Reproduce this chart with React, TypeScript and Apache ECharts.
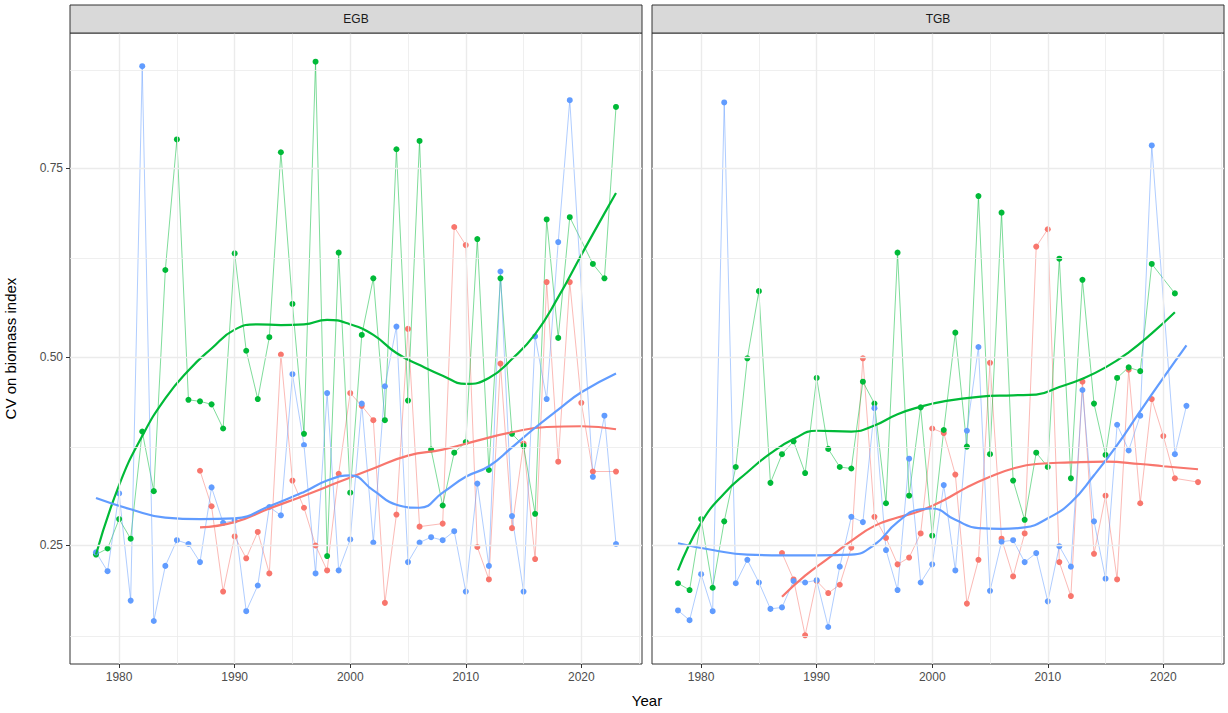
import React, { useEffect, useRef } from "react";
import * as echarts from "echarts";

// ---------- data ----------
const YEARS = [
  1978, 1979, 1980, 1981, 1982, 1983, 1984, 1985, 1986, 1987, 1988, 1989, 1990,
  1991, 1992, 1993, 1994, 1995, 1996, 1997, 1998, 1999, 2000, 2001, 2002, 2003,
  2004, 2005, 2006, 2007, 2008, 2009, 2010, 2011, 2012, 2013, 2014, 2015, 2016,
  2017, 2018, 2019, 2020, 2021, 2022, 2023,
];

const PANELS = ["EGB", "TGB"];
const X_TICKS = [1980, 1990, 2000, 2010, 2020];
const X_MINOR = [1985, 1995, 2005, 2015, 2025];
const Y_TICKS = [0.25, 0.5, 0.75];
const Y_MINOR = [0.125, 0.375, 0.625, 0.875];

const EGB_RED = [
  null, null, null, null, null, null, null, null, null, 0.349, 0.302, 0.189, 0.262,
  0.233, 0.268, 0.213, 0.503, 0.336, 0.3, 0.25, 0.217, 0.345, 0.452, 0.435, 0.416, 0.174,
  0.291, 0.537, 0.275, null, 0.279, 0.672, 0.648, 0.248, 0.205, 0.491, 0.273, 0.385, 0.232,
  0.599, 0.361, 0.599, 0.439, 0.348, null, 0.348,
];
const EGB_GREEN = [
  0.238, 0.246, 0.285, 0.259, 0.401, 0.322, 0.615, 0.788, 0.443, 0.441, 0.437, 0.405, 0.637,
  0.508, 0.444, 0.526, 0.771, 0.57, 0.398, 0.891, 0.236, 0.638, 0.32, 0.529, 0.604, 0.416,
  0.775, 0.442, 0.786, 0.377, 0.303, 0.373, 0.387, 0.656, 0.35, 0.604, 0.398, 0.382, 0.292,
  0.682, 0.525, 0.685, null, 0.623, 0.604, 0.831,
];
const EGB_BLUE = [
  0.241, 0.216, 0.319, 0.177, 0.885, 0.15, 0.223, 0.257, 0.252, 0.228, 0.327, 0.28, 0.283,
  0.163, 0.197, 0.301, 0.29, 0.477, 0.383, 0.213, 0.452, 0.217, 0.258, 0.438, 0.254, 0.461,
  0.54, 0.228, 0.254, 0.261, 0.257, 0.269, 0.189, 0.332, 0.223, 0.613, 0.289, 0.189, 0.527,
  0.444, 0.652, 0.84, null, 0.341, 0.422, 0.252,
];

const TGB_RED = [
  null, null, null, null, null, null, null, null, null, 0.24, 0.205, 0.131, 0.203,
  0.187, 0.198, 0.247, 0.498, 0.288, 0.26, 0.225, 0.234, 0.266, 0.405, 0.399, 0.344, 0.173,
  0.231, 0.492, 0.259, 0.209, 0.266, 0.646, 0.669, 0.228, 0.183, 0.467, 0.239, 0.316, 0.205,
  0.483, 0.306, 0.444, 0.395, 0.339, null, 0.334,
];
const TGB_GREEN = [
  0.2, 0.191, 0.285, 0.194, 0.282, 0.354, 0.498, 0.587, 0.333, 0.371, 0.388, 0.346, 0.472,
  0.378, 0.354, 0.352, 0.467, 0.438, 0.306, 0.638, 0.316, 0.433, 0.263, 0.403, 0.532, 0.381,
  0.713, 0.371, 0.691, 0.336, 0.284, 0.373, 0.354, 0.63, 0.339, 0.602, 0.438, 0.37, 0.472,
  0.486, 0.481, 0.623, null, 0.584, null, null,
];
const TGB_BLUE = [
  0.164, 0.151, 0.212, 0.163, 0.837, 0.2, 0.231, 0.201, 0.166, 0.168, 0.203, 0.201, 0.204,
  0.142, 0.222, 0.288, 0.281, 0.432, 0.244, 0.191, 0.365, 0.201, 0.225, 0.33, 0.217, 0.402,
  0.513, 0.19, 0.255, 0.257, 0.228, 0.24, 0.176, 0.249, 0.222, 0.456, 0.282, 0.206, 0.41,
  0.376, 0.422, 0.78, null, 0.371, 0.435, null,
];

// smoothed trend lines
const EGB_RED_SMOOTH = [
  [1987, 0.274], [1990, 0.281], [1993, 0.299], [1996, 0.316], [1999, 0.334],
  [2002, 0.352], [2005, 0.369], [2008, 0.377], [2011, 0.389], [2014, 0.4],
  [2017, 0.407], [2020, 0.408], [2023, 0.404],
];
const EGB_GREEN_SMOOTH = [
  [1978, 0.238], [1980, 0.33], [1982, 0.395], [1984, 0.445], [1986, 0.482], [1988, 0.511],
  [1990, 0.536], [1992, 0.543], [1994, 0.542], [1996, 0.543], [1998, 0.549], [2000, 0.543],
  [2002, 0.529], [2004, 0.505], [2006, 0.489], [2008, 0.475], [2010, 0.464], [2012, 0.472],
  [2014, 0.497], [2016, 0.53], [2018, 0.579], [2020, 0.635], [2022, 0.69], [2023, 0.717],
];
const EGB_BLUE_SMOOTH = [
  [1978, 0.313], [1981, 0.298], [1984, 0.287], [1987, 0.285], [1990, 0.286], [1993, 0.302],
  [1996, 0.321], [1998, 0.336], [2000, 0.343], [2002, 0.323], [2004, 0.304], [2006, 0.3],
  [2008, 0.32], [2010, 0.341], [2012, 0.355], [2014, 0.38], [2016, 0.406], [2018, 0.43],
  [2020, 0.453], [2023, 0.478],
];

const TGB_RED_SMOOTH = [
  [1987, 0.182], [1989, 0.21], [1991, 0.233], [1993, 0.256], [1995, 0.276], [1997, 0.287],
  [1999, 0.296], [2001, 0.31], [2003, 0.327], [2005, 0.341], [2007, 0.352], [2009, 0.358],
  [2012, 0.36], [2015, 0.361], [2018, 0.358], [2020, 0.355], [2023, 0.351],
];
const TGB_GREEN_SMOOTH = [
  [1978, 0.217], [1980, 0.28], [1982, 0.319], [1984, 0.347], [1986, 0.372], [1988, 0.391],
  [1990, 0.402], [1993, 0.401], [1995, 0.409], [1997, 0.424], [1999, 0.434], [2001, 0.441],
  [2004, 0.447], [2007, 0.449], [2009, 0.45], [2011, 0.46], [2013, 0.471], [2015, 0.486],
  [2017, 0.506], [2019, 0.531], [2021, 0.559],
];
const TGB_BLUE_SMOOTH = [
  [1978, 0.253], [1981, 0.244], [1984, 0.238], [1987, 0.237], [1990, 0.237], [1993, 0.238],
  [1995, 0.251], [1997, 0.281], [1999, 0.298], [2000, 0.299], [2002, 0.284], [2004, 0.273],
  [2006, 0.272], [2008, 0.274], [2010, 0.286], [2012, 0.307], [2014, 0.343], [2016, 0.383],
  [2018, 0.428], [2020, 0.472], [2022, 0.515],
];

const RED = "#F8766D";
const GREEN = "#00BA38";
const BLUE = "#619CFF";
const FONT = 'Arial, "Liberation Sans", Helvetica, sans-serif';

const PANEL_DATA = [
  {
    raw: [EGB_RED, EGB_GREEN, EGB_BLUE],
    smooth: [EGB_RED_SMOOTH, EGB_GREEN_SMOOTH, EGB_BLUE_SMOOTH],
  },
  {
    raw: [TGB_RED, TGB_GREEN, TGB_BLUE],
    smooth: [TGB_RED_SMOOTH, TGB_GREEN_SMOOTH, TGB_BLUE_SMOOTH],
  },
];
const COLORS = [RED, GREEN, BLUE];

function toPairs(values: (number | null)[]) {
  const out: [number, number][] = [];
  values.forEach((v, i) => {
    if (v !== null) out.push([YEARS[i], v]);
  });
  return out;
}

const GRID_LEFTS = [70, 652];
const GRID_W = 572;
const GRID_TOP = 33;
const GRID_H = 631;

function buildOption() {
  const series: any[] = [];
  PANEL_DATA.forEach((panel, p) => {
    // background grid lines
    series.push({
      type: "line",
      xAxisIndex: p,
      yAxisIndex: p,
      data: [[2000, 0.5]],
      symbol: "none",
      lineStyle: { opacity: 0 },
      silent: true,
      z: 1,
      markLine: {
        silent: true,
        symbol: ["none", "none"],
        label: { show: false },
        emphasis: { disabled: true },
        animation: false,
        data: [
          ...X_MINOR.map((x) => ({ xAxis: x, lineStyle: { color: "#ebebeb", width: 0.8, type: "solid" } })),
          ...Y_MINOR.map((y) => ({ yAxis: y, lineStyle: { color: "#ebebeb", width: 0.8, type: "solid" } })),
          ...X_TICKS.map((x) => ({ xAxis: x, lineStyle: { color: "#ebebeb", width: 1.4, type: "solid" } })),
          ...Y_TICKS.map((y) => ({ yAxis: y, lineStyle: { color: "#ebebeb", width: 1.4, type: "solid" } })),
        ],
      },
    });
    panel.raw.forEach((vals, k) => {
      series.push({
        type: "line",
        xAxisIndex: p,
        yAxisIndex: p,
        data: toPairs(vals),
        showSymbol: false,
        symbol: "none",
        lineStyle: { color: COLORS[k], width: 1, opacity: 0.5 },
        silent: true,
        z: 2,
      });
    });
    panel.raw.forEach((vals, k) => {
      series.push({
        type: "scatter",
        xAxisIndex: p,
        yAxisIndex: p,
        data: toPairs(vals),
        symbol: "circle",
        symbolSize: 6,
        itemStyle: { color: COLORS[k], opacity: 1, borderWidth: 0 },
        silent: true,
        z: 3,
      });
    });
    panel.smooth.forEach((vals, k) => {
      series.push({
        type: "line",
        xAxisIndex: p,
        yAxisIndex: p,
        data: vals,
        smooth: 0.5,
        showSymbol: false,
        symbol: "none",
        lineStyle: { color: COLORS[k], width: 2.2 },
        silent: true,
        z: 4,
      });
    });
  });

  const graphic: any[] = [];
  PANELS.forEach((name, p) => {
    graphic.push({
      type: "rect",
      shape: { x: GRID_LEFTS[p], y: 5, width: GRID_W, height: GRID_TOP - 5 },
      style: { fill: "#d9d9d9", stroke: "#333333", lineWidth: 1 },
      z: 10,
    });
    graphic.push({
      type: "text",
      x: GRID_LEFTS[p] + GRID_W / 2,
      y: (5 + GRID_TOP) / 2,
      style: {
        text: name,
        fill: "#1a1a1a",
        font: `12px ${FONT}`,
        textAlign: "center",
        textVerticalAlign: "middle",
      },
      z: 11,
    });
  });
  graphic.push({
    type: "text",
    x: (GRID_LEFTS[0] + GRID_LEFTS[1] + GRID_W) / 2,
    y: 700,
    style: {
      text: "Year",
      fill: "#000000",
      font: `15px ${FONT}`,
      textAlign: "center",
      textVerticalAlign: "middle",
    },
  });

  return {
    animation: false,
    backgroundColor: "#ffffff",
    textStyle: { fontFamily: FONT },
    grid: GRID_LEFTS.map((left) => ({
      left,
      top: GRID_TOP,
      width: GRID_W,
      height: GRID_H,
      show: true,
      backgroundColor: "#ffffff",
      borderColor: "#333333",
      borderWidth: 1,
      containLabel: false,
    })),
    xAxis: GRID_LEFTS.map((_, i) => ({
      type: "value",
      gridIndex: i,
      min: 1975.75,
      max: 2025.25,
      axisLine: { show: false },
      splitLine: { show: false },
      axisTick: { show: true, length: 4, lineStyle: { color: "#333333" }, customValues: X_TICKS },
      axisLabel: {
        customValues: X_TICKS,
        color: "#4d4d4d",
        fontSize: 12,
        margin: 7,
        fontFamily: FONT,
        formatter: (v: number) => String(v),
      },
    })),
    yAxis: GRID_LEFTS.map((_, i) => ({
      type: "value",
      gridIndex: i,
      min: 0.093,
      max: 0.929,
      axisLine: { show: false },
      splitLine: { show: false },
      axisTick: { show: i === 0, length: 4, lineStyle: { color: "#333333" }, customValues: Y_TICKS },
      axisLabel: {
        show: i === 0,
        customValues: Y_TICKS,
        color: "#4d4d4d",
        fontSize: 12,
        margin: 7,
        fontFamily: FONT,
        formatter: (v: number) => v.toFixed(2),
      },
      name: i === 0 ? "CV on biomass index" : "",
      nameLocation: "middle",
      nameGap: 52,
      nameTextStyle: { fontSize: 15, color: "#000000", fontFamily: FONT },
    })),
    series,
    graphic,
  };
}

export default function App() {
  const ref = useRef<HTMLDivElement>(null);
  useEffect(() => {
    if (!ref.current) return;
    const chart = echarts.init(ref.current, null, { renderer: "svg" });
    chart.setOption(buildOption() as any);
    return () => chart.dispose();
  }, []);
  return (
    <div
      ref={ref}
      style={{ position: "fixed", left: 0, top: 0, width: 1228, height: 713, background: "#fff" }}
    />
  );
}
